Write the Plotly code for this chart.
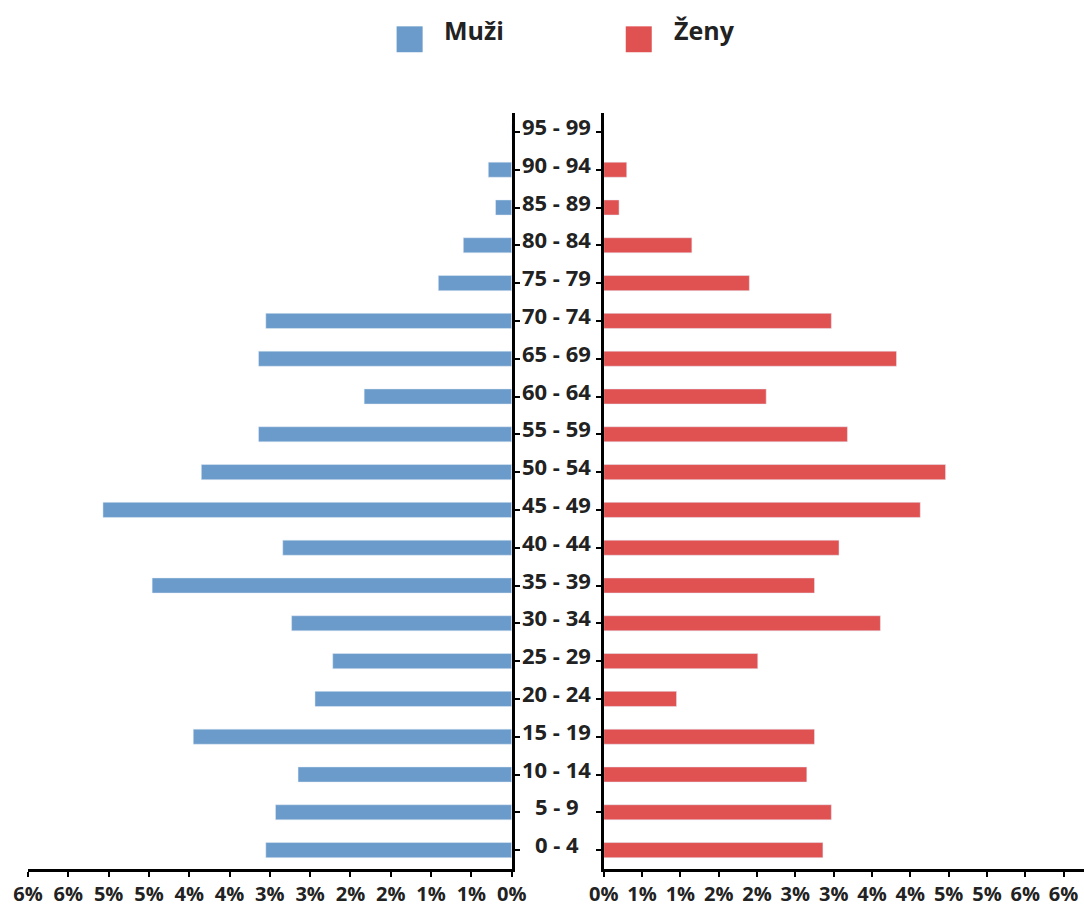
import plotly.graph_objects as go
from plotly.subplots import make_subplots

age_groups = ["0 - 4", "5 - 9", "10 - 14", "15 - 19", "20 - 24", "25 - 29", "30 - 34",
              "35 - 39", "40 - 44", "45 - 49", "50 - 54", "55 - 59", "60 - 64", "65 - 69",
              "70 - 74", "75 - 79", "80 - 84", "85 - 89", "90 - 94", "95 - 99"]
men = [3.05, 2.93, 2.65, 3.95, 2.44, 2.22, 2.73, 4.46, 2.84, 5.07, 3.85, 3.14, 1.83,
       3.14, 3.05, 0.91, 0.60, 0.20, 0.29, 0.0]
women = [2.86, 2.97, 2.65, 2.75, 0.95, 2.01, 3.61, 2.75, 3.07, 4.13, 4.46, 3.18, 2.12,
         3.82, 2.97, 1.90, 1.15, 0.20, 0.30, 0.0]
series_names = ["Muži", "Ženy"]
tick_vals = [0, 0.5, 1, 1.5, 2, 2.5, 3, 3.5, 4, 4.5, 5, 5.5, 6]
tick_text = ["0%", "1%", "1%", "2%", "2%", "3%", "3%", "4%", "4%", "5%", "5%", "6%", "6%"]

BLUE = "#6A9BCA"
RED = "#E05252"
TXT = "#222222"
FONT = "Open Sans"

fig = make_subplots(rows=1, cols=2, shared_yaxes=False)
fig.add_trace(go.Bar(x=men, y=age_groups, orientation="h", marker_color=BLUE,
                     name=series_names[0], showlegend=False), row=1, col=1)
fig.add_trace(go.Bar(x=women, y=age_groups, orientation="h", marker_color=RED,
                     name=series_names[1], showlegend=False), row=1, col=2)

# the page appears horizontally compressed by ~1084/1100; lay out in picture pixels
SX = 1084 / 1100
W, H = round(1084 / SX), 907

def fx(p):           # picture x -> figure x
    return p / SX

PLOT_L, PLOT_R, PLOT_T, PLOT_B = fx(28), W, 113, 872
ml, mr, mt, mb = round(PLOT_L), 0, PLOT_T, H - PLOT_B
PLOT_L = ml
pw = PLOT_R - PLOT_L
ph = PLOT_B - PLOT_T

def px_x(p):         # picture x -> paper x
    return (fx(p) - PLOT_L) / pw

def px_y(p):
    return (PLOT_B - p) / ph

LEFT_ZERO, RIGHT_ZERO, RIGHT_PX_PER_UNIT = 511, 603, 76.6
RIGHT_END = 1084

axis_common = dict(showline=True, linecolor="black", linewidth=3, ticks="outside",
                   ticklen=5, tickwidth=2, tickcolor="black", showgrid=False, zeroline=False,
                   tickfont=dict(family=FONT, size=20, color=TXT, weight="bold"))

fig.update_xaxes(domain=[0, px_x(LEFT_ZERO)], range=[6, 0], tickvals=tick_vals,
                 ticktext=tick_text, **axis_common, row=1, col=1)
fig.update_xaxes(domain=[px_x(RIGHT_ZERO), 1],
                 range=[0, (RIGHT_END - RIGHT_ZERO) / RIGHT_PX_PER_UNIT],
                 tickvals=tick_vals, ticktext=tick_text, **axis_common, row=1, col=2)
fig.update_yaxes(side="right", showticklabels=False, categoryorder="array",
                 categoryarray=age_groups, range=[-0.5, 19.5], **axis_common, row=1, col=1)
fig.update_yaxes(side="left", showticklabels=False, categoryorder="array",
                 categoryarray=age_groups, range=[-0.5, 19.5], **axis_common, row=1, col=2)

annotations = []
for g in age_groups:
    annotations.append(dict(x=px_x(556), y=g, xref="paper", yref="y", text=g, showarrow=False,
                            xanchor="center", yanchor="middle", yshift=6,
                            font=dict(family=FONT, size=22, color=TXT, weight="bold")))

shapes = []
legend_items = [(series_names[0], BLUE, 396, 441), (series_names[1], RED, 625, 671)]
for name, col, sx, tx in legend_items:
    shapes.append(dict(type="rect", xref="paper", yref="paper",
                       x0=px_x(sx), x1=px_x(sx + 26), y0=px_y(52), y1=px_y(26),
                       fillcolor=col, line=dict(width=0)))
    annotations.append(dict(x=px_x(tx), y=px_y(30), xref="paper", yref="paper", text=name,
                            showarrow=False, xanchor="left", yanchor="middle",
                            font=dict(family=FONT, size=25, color=TXT, weight="bold")))

fig.update_layout(width=W, height=H, margin=dict(l=ml, r=mr, t=mt, b=mb),
                  plot_bgcolor="white", paper_bgcolor="white", bargap=0.6,
                  annotations=annotations, shapes=shapes, showlegend=False)

fig.write_html("out.html", config={"displayModeBar": False},
               post_script="document.body.style.margin='0px';"
                           "document.body.style.overflow='hidden';")
